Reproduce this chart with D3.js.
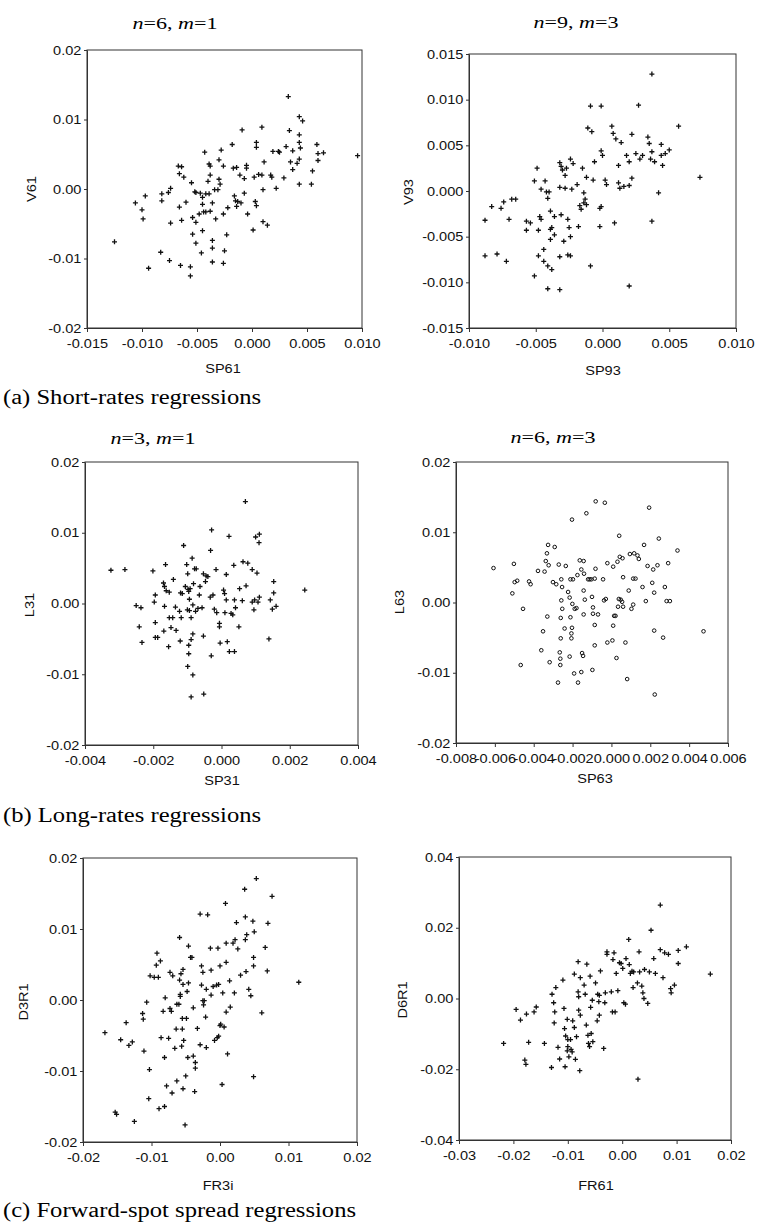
<!DOCTYPE html>
<html lang="en">
<head>
  <meta charset="UTF-8">
  <title>Regression scatter plots</title>
  <script src="https://d3js.org/d3.v7.min.js"></script>
  <style>
    body { margin: 0; background: #fff; }
    .tick text { font-family: 'Liberation Sans', Arial, sans-serif; font-size: 13px; fill: #111; }
  </style>
</head>
<body>
<div id="chart"></div>
<script>
// ---- data: [x, y] pairs per panel ----
const sp61_v61 = [[-0.0125,-0.0076],[-0.0106,-0.0020],[-0.0097,-0.0010],[-0.0100,-0.0030],[-0.0099,-0.0043],[-0.0094,-0.0114],[-0.0082,-0.0007],[-0.0082,-0.0017],[-0.0083,-0.0091],[-0.0076,-0.0005],[-0.0074,0.0001],[-0.0074,-0.0049],[-0.0075,-0.0103],[-0.0067,0.0033],[-0.0064,0.0032],[-0.0066,0.0022],[-0.0062,0.0017],[-0.0066,-0.0026],[-0.0064,-0.0045],[-0.0065,-0.0110],[-0.0060,-0.0019],[-0.0055,0.0009],[-0.0056,-0.0112],[-0.0056,-0.0125],[-0.0054,-0.0065],[-0.0054,-0.0041],[-0.0052,-0.0004],[-0.0051,-0.0048],[-0.0051,-0.0078],[-0.0048,-0.0036],[-0.0047,-0.0006],[-0.0045,-0.0060],[-0.0046,-0.0092],[-0.0045,-0.0022],[-0.0045,-0.0012],[-0.0044,-0.0033],[-0.0043,0.0053],[-0.0042,-0.0033],[-0.0040,0.0011],[-0.0039,0.0036],[-0.0038,0.0033],[-0.0038,0.0020],[-0.0039,-0.0007],[-0.0038,-0.0032],[-0.0036,-0.0020],[-0.0036,-0.0074],[-0.0036,-0.0085],[-0.0036,-0.0105],[-0.0034,-0.0001],[-0.0033,-0.0043],[-0.0031,-0.0001],[-0.0030,0.0014],[-0.0029,0.0007],[-0.0030,0.0042],[-0.0028,0.0056],[-0.0026,0.0033],[-0.0026,-0.0036],[-0.0025,-0.0089],[-0.0026,-0.0107],[-0.0023,-0.0066],[-0.0022,-0.0027],[-0.0018,0.0064],[-0.0017,0.0030],[-0.0016,-0.0010],[-0.0015,-0.0017],[-0.0014,-0.0025],[-0.0014,0.0031],[-0.0013,-0.0018],[-0.0011,0.0020],[-0.0010,-0.0020],[-0.0009,0.0085],[-0.0007,0.0015],[-0.0007,-0.0006],[-0.0005,0.0034],[-0.0005,0.0030],[-0.0004,-0.0036],[0.0001,-0.0059],[0.0002,0.0017],[0.0003,-0.0018],[0.0004,-0.0024],[0.0004,0.0067],[0.0004,0.0060],[0.0006,0.0021],[0.0009,0.0020],[0.0009,0.0089],[0.0010,-0.0001],[0.0010,-0.0047],[0.0011,0.0039],[0.0014,-0.0052],[0.0017,0.0020],[0.0018,0.0017],[0.0019,0.0054],[0.0022,0.0001],[0.0024,0.0054],[0.0025,0.0053],[0.0029,0.0016],[0.0031,0.0061],[0.0033,0.0133],[0.0034,0.0084],[0.0035,0.0039],[0.0037,0.0028],[0.0037,0.0055],[0.0041,0.0037],[0.0043,0.0043],[0.0043,0.0007],[0.0043,0.0078],[0.0043,0.0067],[0.0044,0.0059],[0.0043,0.0104],[0.0046,0.0098],[0.0054,0.0007],[0.0055,0.0026],[0.0059,0.0064],[0.0060,0.0051],[0.0060,0.0041],[0.0065,0.0052],[0.0096,0.0048],[-0.0042,-0.0007],[-0.0051,-0.0005]];

const sp93_v93 = [[-0.0088,-0.0032],[-0.0088,-0.0071],[-0.0083,-0.0017],[-0.0079,-0.0069],[-0.0076,-0.0019],[-0.0074,-0.0012],[-0.0072,-0.0077],[-0.0070,-0.0031],[-0.0068,-0.0009],[-0.0065,-0.0009],[-0.0057,-0.0033],[-0.0057,-0.0043],[-0.0054,-0.0035],[-0.0051,0.0011],[-0.0051,-0.0093],[-0.0049,0.0025],[-0.0048,-0.0043],[-0.0048,-0.0071],[-0.0047,-0.0028],[-0.0046,0.0002],[-0.0046,-0.0031],[-0.0044,-0.0077],[-0.0044,-0.0064],[-0.0043,0.0011],[-0.0042,-0.0001],[-0.0041,-0.0008],[-0.0040,-0.0001],[-0.0041,-0.0107],[-0.0041,-0.0082],[-0.0039,-0.0022],[-0.0039,-0.0053],[-0.0039,-0.0042],[-0.0038,-0.0040],[-0.0038,-0.0086],[-0.0036,-0.0028],[-0.0036,-0.0048],[-0.0032,-0.0072],[-0.0032,-0.0108],[-0.0032,0.0004],[-0.0032,0.0031],[-0.0031,0.0027],[-0.0031,-0.0026],[-0.0030,0.0023],[-0.0029,-0.0055],[-0.0028,0.0017],[-0.0028,0.0003],[-0.0027,0.0025],[-0.0026,-0.0031],[-0.0026,-0.0070],[-0.0025,-0.0040],[-0.0024,0.0035],[-0.0024,-0.0050],[-0.0024,-0.0071],[-0.0023,0.0002],[-0.0022,0.0030],[-0.0019,0.0007],[-0.0018,-0.0039],[-0.0017,-0.0016],[-0.0016,-0.0020],[-0.0015,0.0025],[-0.0014,-0.0013],[-0.0014,-0.0002],[-0.0013,-0.0009],[-0.0012,0.0015],[-0.0011,0.0069],[-0.0009,0.0093],[-0.0008,0.0065],[-0.0009,-0.0082],[-0.0007,0.0012],[-0.0006,0.0032],[-0.0002,-0.0019],[-0.0002,-0.0039],[-0.0001,0.0093],[-0.0001,-0.0017],[-0.0001,0.0044],[0.0000,0.0039],[0.0002,0.0012],[0.0003,0.0007],[0.0007,0.0071],[0.0008,0.0063],[0.0009,-0.0035],[0.0010,0.0057],[0.0012,0.0009],[0.0012,0.0028],[0.0013,0.0003],[0.0014,0.0053],[0.0016,0.0005],[0.0018,0.0039],[0.0020,0.0032],[0.0020,0.0006],[0.0020,-0.0104],[0.0022,0.0014],[0.0022,0.0062],[0.0025,0.0041],[0.0027,0.0094],[0.0028,0.0035],[0.0030,0.0039],[0.0034,0.0059],[0.0035,0.0052],[0.0036,0.0035],[0.0037,0.0128],[0.0037,-0.0033],[0.0037,0.0043],[0.0039,0.0032],[0.0042,-0.0002],[0.0044,0.0051],[0.0044,0.0039],[0.0045,0.0028],[0.0047,0.0041],[0.0050,0.0045],[0.0057,0.0071],[0.0073,0.0015],[-0.0012,-0.0015]];

const sp31_l31 = [[-0.00324,0.0047],[-0.00283,0.0048],[-0.00250,-0.0003],[-0.00236,-0.0006],[-0.00241,-0.0033],[-0.00233,-0.0055],[-0.00201,0.0046],[-0.00197,0.0002],[-0.00194,0.0012],[-0.00194,-0.0027],[-0.00194,-0.0048],[-0.00187,-0.0048],[-0.00170,0.0029],[-0.00167,0.0024],[-0.00167,-0.0004],[-0.00164,0.0055],[-0.00162,0.0018],[-0.00169,-0.0039],[-0.00155,-0.0061],[-0.00153,0.0016],[-0.00153,-0.0020],[-0.00148,-0.0034],[-0.00143,-0.0020],[-0.00141,0.0034],[-0.00135,-0.0005],[-0.00133,-0.0038],[-0.00123,-0.0011],[-0.00121,-0.0053],[-0.00120,0.0015],[-0.00118,-0.0020],[-0.00115,0.0014],[-0.00111,0.0082],[-0.00106,0.0024],[-0.00102,0.0055],[-0.00100,-0.0009],[-0.00099,0.0042],[-0.00098,0.0020],[-0.00096,0.0017],[-0.00096,-0.0059],[-0.00096,-0.0071],[-0.00099,-0.0089],[-0.00094,0.0006],[-0.00094,-0.0010],[-0.00092,0.0021],[-0.00089,-0.0020],[-0.00089,-0.0132],[-0.00089,-0.0051],[-0.00086,0.0064],[-0.00084,-0.0002],[-0.00084,-0.0043],[-0.00084,-0.0101],[-0.00082,0.0028],[-0.00079,0.0049],[-0.00076,-0.0011],[-0.00074,0.0049],[-0.00069,-0.0007],[-0.00065,0.0012],[-0.00063,0.0024],[-0.00057,-0.0006],[-0.00053,0.0042],[-0.00053,-0.0046],[-0.00052,-0.0128],[-0.00047,0.0031],[-0.00045,0.0039],[-0.00040,0.0038],[-0.00033,0.0009],[-0.00032,0.0075],[-0.00030,-0.0074],[-0.00029,0.0104],[-0.00025,0.0012],[-0.00021,-0.0008],[-0.00016,0.0048],[-0.00014,-0.0013],[-0.00006,-0.0028],[-0.00006,-0.0033],[-0.00004,-0.0056],[0.00006,0.0019],[0.00009,0.0014],[0.00010,-0.0013],[0.00014,0.0041],[0.00014,0.0005],[0.00017,-0.0054],[0.00022,0.0095],[0.00023,-0.0068],[0.00028,-0.0014],[0.00033,-0.0016],[0.00036,0.0054],[0.00038,0.0005],[0.00038,-0.0068],[0.00041,-0.0006],[0.00051,-0.0033],[0.00053,0.0021],[0.00061,0.0004],[0.00063,0.0059],[0.00070,0.0144],[0.00072,0.0025],[0.00077,0.0057],[0.00090,0.0048],[0.00090,0.0002],[0.00095,-0.0009],[0.00097,0.0005],[0.00100,0.0094],[0.00104,0.0043],[0.00107,0.0002],[0.00110,0.0086],[0.00111,0.0098],[0.00111,0.0009],[0.00139,-0.0050],[0.00143,0.0005],[0.00149,-0.0008],[0.00153,0.0031],[0.00153,0.0015],[0.00160,-0.0004],[0.00244,0.0019]];

const sp63_l63 = [[-0.00607,0.0049],[-0.00510,0.0013],[-0.00502,0.0055],[-0.00498,0.0029],[-0.00485,0.0031],[-0.00467,-0.0089],[-0.00455,-0.0009],[-0.00424,0.0030],[-0.00416,0.0026],[-0.00378,0.0045],[-0.00361,-0.0068],[-0.00352,-0.0041],[-0.00344,0.0044],[-0.00338,0.0059],[-0.00332,0.0070],[-0.00330,-0.0020],[-0.00326,0.0082],[-0.00323,0.0053],[-0.00318,-0.0085],[-0.00301,0.0029],[-0.00292,0.0079],[-0.00284,0.0026],[-0.00275,-0.0114],[-0.00271,0.0054],[-0.00266,-0.0071],[-0.00263,-0.0080],[-0.00263,-0.0089],[-0.00261,-0.0051],[-0.00261,-0.0022],[-0.00258,0.0003],[-0.00258,0.0033],[-0.00254,0.0022],[-0.00253,-0.0009],[-0.00241,-0.0037],[-0.00235,0.0052],[-0.00223,0.0015],[-0.00215,0.0007],[-0.00215,-0.0077],[-0.00211,-0.0021],[-0.00211,0.0033],[-0.00206,-0.0044],[-0.00206,-0.0051],[-0.00203,-0.0036],[-0.00203,0.0118],[-0.00201,-0.0002],[-0.00198,0.0033],[-0.00192,-0.0101],[-0.00189,-0.0009],[-0.00180,-0.0008],[-0.00175,0.0039],[-0.00172,-0.0114],[-0.00163,0.0060],[-0.00155,0.0047],[-0.00155,-0.0099],[-0.00151,-0.0072],[-0.00146,-0.0076],[-0.00143,0.0059],[-0.00143,0.0017],[-0.00143,-0.0017],[-0.00141,0.0041],[-0.00137,0.0004],[-0.00129,0.0127],[-0.00120,0.0033],[-0.00112,0.0033],[-0.00103,0.0033],[-0.00100,0.0008],[-0.00095,-0.0007],[-0.00098,-0.0096],[-0.00095,-0.0016],[-0.00086,0.0034],[-0.00086,-0.0032],[-0.00086,-0.0061],[-0.00082,0.0048],[-0.00081,0.0144],[-0.00069,-0.0017],[-0.00043,0.0033],[-0.00038,0.0003],[-0.00034,0.0142],[-0.00029,0.0005],[-0.00021,-0.0057],[-0.00021,0.0056],[0.00005,-0.0054],[0.00009,0.0051],[0.00009,-0.0033],[0.00014,-0.0019],[0.00021,-0.0019],[0.00026,-0.0079],[0.00031,0.0058],[0.00034,-0.0006],[0.00038,0.0005],[0.00040,0.0095],[0.00043,0.0065],[0.00048,0.0004],[0.00055,0.0001],[0.00057,0.0063],[0.00060,0.0036],[0.00060,-0.0006],[0.00072,-0.0057],[0.00089,0.0017],[0.00095,0.0069],[0.00103,-0.0009],[0.00112,-0.0003],[0.00112,0.0034],[0.00117,0.0070],[0.00124,0.0034],[0.00134,0.0067],[0.00141,0.0062],[0.00160,0.0022],[0.00168,0.0082],[0.00177,0.0002],[0.00186,0.0052],[0.00194,0.0135],[0.00210,0.0028],[0.00215,0.0047],[0.00220,0.0014],[0.00220,-0.0040],[0.00237,0.0053],[0.00244,0.0091],[0.00266,-0.0050],[0.00275,0.0022],[0.00284,0.0002],[0.00292,0.0056],[0.00301,0.0002],[0.00340,0.0074],[0.00223,-0.0131],[0.00081,-0.0109],[0.00474,-0.0041]];

const fr31_d3r1 = [[-0.0168,-0.0046],[-0.0153,-0.0158],[-0.0151,-0.0161],[-0.0145,-0.0056],[-0.0137,-0.0032],[-0.0133,-0.0064],[-0.0128,-0.0059],[-0.0125,-0.0171],[-0.0113,-0.0019],[-0.0112,-0.0027],[-0.0111,-0.0072],[-0.0107,-0.0003],[-0.0104,-0.0139],[-0.0103,-0.0098],[-0.0102,0.0034],[-0.0096,0.0032],[-0.0093,0.0049],[-0.0092,0.0066],[-0.0090,0.0032],[-0.0089,-0.0153],[-0.0087,0.0055],[-0.0086,-0.0053],[-0.0083,-0.0016],[-0.0081,-0.0081],[-0.0081,-0.0150],[-0.0080,0.0003],[-0.0078,-0.0121],[-0.0075,-0.0054],[-0.0073,-0.0012],[-0.0073,0.0039],[-0.0071,-0.0016],[-0.0070,-0.0131],[-0.0069,0.0034],[-0.0066,-0.0068],[-0.0064,-0.0041],[-0.0063,-0.0114],[-0.0063,-0.0006],[-0.0060,-0.0006],[-0.0059,0.0088],[-0.0059,0.0028],[-0.0058,0.0008],[-0.0058,0.0005],[-0.0057,0.0037],[-0.0056,-0.0065],[-0.0055,-0.0026],[-0.0055,-0.0041],[-0.0054,-0.0125],[-0.0054,0.0043],[-0.0054,0.0022],[-0.0053,-0.0057],[-0.0051,-0.0176],[-0.0050,-0.0107],[-0.0049,-0.0026],[-0.0048,0.0012],[-0.0047,-0.0081],[-0.0046,0.0076],[-0.0046,0.0024],[-0.0043,0.0060],[-0.0041,0.0060],[-0.0039,-0.0011],[-0.0039,-0.0079],[-0.0037,-0.0129],[-0.0036,-0.0088],[-0.0036,-0.0096],[-0.0033,-0.0040],[-0.0029,0.0121],[-0.0029,-0.0063],[-0.0027,0.0048],[-0.0027,0.0021],[-0.0025,0.0039],[-0.0025,-0.0001],[-0.0024,-0.0007],[-0.0023,-0.0001],[-0.0021,-0.0024],[-0.0020,0.0015],[-0.0020,-0.0067],[-0.0018,0.0120],[-0.0014,0.0073],[-0.0013,0.0042],[-0.0013,0.0007],[-0.0010,0.0019],[-0.0008,-0.0057],[-0.0005,0.0021],[-0.0004,-0.0053],[-0.0003,0.0073],[-0.0002,0.0022],[-0.0002,-0.0051],[0.0000,-0.0036],[0.0000,0.0048],[0.0001,-0.0034],[0.0003,-0.0119],[0.0004,0.0010],[0.0006,-0.0038],[0.0008,0.0136],[0.0009,0.0053],[0.0009,0.0080],[0.0009,-0.0017],[0.0011,-0.0076],[0.0014,0.0027],[0.0015,-0.0010],[0.0019,0.0080],[0.0021,0.0010],[0.0022,0.0085],[0.0024,0.0109],[0.0026,0.0072],[0.0030,0.0035],[0.0036,0.0156],[0.0037,0.0117],[0.0037,0.0085],[0.0038,0.0040],[0.0039,0.0092],[0.0042,0.0015],[0.0045,0.0006],[0.0048,0.0111],[0.0049,0.0060],[0.0049,0.0048],[0.0050,0.0096],[0.0049,-0.0108],[0.0053,0.0171],[0.0061,-0.0018],[0.0066,0.0074],[0.0069,0.0041],[0.0070,0.0108],[0.0076,0.0146],[0.0115,0.0025]];

const fr61_d6r1 = [[-0.0218,-0.0127],[-0.0195,-0.0031],[-0.0187,-0.0061],[-0.0179,-0.0174],[-0.0177,-0.0186],[-0.0176,-0.0044],[-0.0172,-0.0124],[-0.0162,-0.0038],[-0.0158,-0.0024],[-0.0143,-0.0127],[-0.0130,-0.0195],[-0.0129,0.0012],[-0.0126,-0.0012],[-0.0125,-0.0069],[-0.0124,-0.0038],[-0.0122,0.0031],[-0.0118,-0.0138],[-0.0115,-0.0171],[-0.0109,0.0052],[-0.0107,-0.0028],[-0.0106,-0.0085],[-0.0105,-0.0193],[-0.0104,-0.0106],[-0.0101,-0.0059],[-0.0101,-0.0148],[-0.0100,-0.0116],[-0.0100,-0.0136],[-0.0098,-0.0165],[-0.0095,-0.0116],[-0.0094,-0.0144],[-0.0092,-0.0151],[-0.0091,-0.0063],[-0.0088,0.0069],[-0.0088,-0.0082],[-0.0086,-0.0172],[-0.0084,-0.0108],[-0.0081,0.0104],[-0.0081,0.0019],[-0.0080,0.0005],[-0.0080,-0.0033],[-0.0078,-0.0204],[-0.0077,0.0059],[-0.0077,-0.0047],[-0.0070,0.0038],[-0.0068,0.0012],[-0.0066,-0.0075],[-0.0065,0.0097],[-0.0063,-0.0104],[-0.0062,-0.0127],[-0.0060,-0.0136],[-0.0059,0.0063],[-0.0058,-0.0025],[-0.0057,-0.0099],[-0.0055,-0.0005],[-0.0054,-0.0122],[-0.0049,0.0044],[-0.0046,-0.0063],[-0.0045,0.0012],[-0.0043,-0.0009],[-0.0042,-0.0047],[-0.0042,0.0009],[-0.0040,0.0078],[-0.0034,-0.0141],[-0.0032,-0.0012],[-0.0031,0.0016],[-0.0028,0.0132],[-0.0028,0.0125],[-0.0020,0.0019],[-0.0018,-0.0038],[-0.0017,0.0110],[-0.0015,0.0129],[-0.0013,-0.0038],[-0.0011,0.0071],[-0.0008,0.0022],[-0.0005,0.0101],[-0.0002,0.0099],[0.0001,0.0085],[0.0003,-0.0012],[0.0006,-0.0016],[0.0007,0.0113],[0.0012,0.0167],[0.0013,0.0096],[0.0015,0.0071],[0.0018,0.0077],[0.0020,0.0031],[0.0021,0.0075],[0.0028,0.0044],[0.0029,-0.0228],[0.0031,0.0132],[0.0032,0.0075],[0.0036,0.0035],[0.0038,0.0016],[0.0040,0.0000],[0.0041,0.0082],[0.0047,-0.0014],[0.0050,0.0075],[0.0053,0.0193],[0.0058,0.0113],[0.0061,0.0071],[0.0070,0.0138],[0.0070,0.0264],[0.0075,0.0059],[0.0078,0.0129],[0.0085,0.0125],[0.0089,0.0028],[0.0090,0.0016],[0.0096,0.0038],[0.0103,0.0136],[0.0103,0.0099],[0.0118,0.0146],[0.0162,0.0069]];

// ---- tick values and labels ----
const ticks2 = [-0.02, -0.01, 0, 0.01, 0.02];
const labels2 = ["-0.02", "-0.01", "0.00", "0.01", "0.02"];
const ticksSP61 = [-0.015, -0.010, -0.005, 0, 0.005, 0.010];
const labelsSP61 = ["-0.015", "-0.010", "-0.005", "0.000", "0.005", "0.010"];
const ticksSP93 = [-0.010, -0.005, 0, 0.005, 0.010];
const labelsSP93 = ["-0.010", "-0.005", "0.000", "0.005", "0.010"];
const ticksV93 = [-0.015, -0.010, -0.005, 0, 0.005, 0.010, 0.015];
const labelsV93 = ["-0.015", "-0.010", "-0.005", "0.000", "0.005", "0.010", "0.015"];
const ticksSP31 = [-0.004, -0.002, 0, 0.002, 0.004];
const labelsSP31 = ["-0.004", "-0.002", "0.000", "0.002", "0.004"];
const ticksSP63 = [-0.008, -0.006, -0.004, -0.002, 0, 0.002, 0.004, 0.006];
const labelsSP63 = ["-0.008", "-0.006", "-0.004", "-0.002", "0.000", "0.002", "0.004", "0.006"];
const ticksFR61 = [-0.03, -0.02, -0.01, 0, 0.01, 0.02];
const labelsFR61 = ["-0.03", "-0.02", "-0.01", "0.00", "0.01", "0.02"];
const ticksD6R1 = [-0.04, -0.02, 0, 0.02, 0.04];
const labelsD6R1 = ["-0.04", "-0.02", "0.00", "0.02", "0.04"];

const captions = ["(a) Short-rates regressions", "(b) Long-rates regressions", "(c) Forward-spot spread regressions"];

const panels = [
  { data: sp61_v61, xt: ticksSP61, xl: labelsSP61, yt: ticks2, yl: labels2, xname: "SP61", yname: "V61", nm: ["6", "1"], mark: "plus",
    box: [87, 50, 362, 328], title: [175, 29], xpos: [223, 373], ypos: [36, 189] },
  { data: sp93_v93, xt: ticksSP93, xl: labelsSP93, yt: ticksV93, yl: labelsV93, xname: "SP93", yname: "V93", nm: ["9", "3"], mark: "plus",
    box: [469, 54, 736, 328], title: [576, 28], xpos: [603, 375], ypos: [413, 192] },
  { data: sp31_l31, xt: ticksSP31, xl: labelsSP31, yt: ticks2, yl: labels2, xname: "SP31", yname: "L31", nm: ["3", "1"], mark: "plus",
    box: [85, 462, 358, 745], title: [153, 444], xpos: [222, 785], ypos: [34, 605] },
  { data: sp63_l63, xt: ticksSP63, xl: labelsSP63, yt: ticks2, yl: labels2, xname: "SP63", yname: "L63", nm: ["6", "3"], mark: "circle",
    box: [456, 462, 728, 743], title: [553, 443], xpos: [595, 783], ypos: [404, 602] },
  { data: fr31_d3r1, xt: ticks2, xl: labels2, yt: ticks2, yl: labels2, xname: "FR3i", yname: "D3R1", nm: null, mark: "plus",
    box: [83, 858, 357, 1142], title: null, xpos: [218, 1190], ypos: [28, 1002] },
  { data: fr61_d6r1, xt: ticksFR61, xl: labelsFR61, yt: ticksD6R1, yl: labelsD6R1, xname: "FR61", yname: "D6R1", nm: null, mark: "plus",
    box: [459, 857, 731, 1140], title: null, xpos: [596, 1190], ypos: [407, 1000] }
];
const captionPos = [[3, 404], [3, 822], [3, 1217]];

const sans = "'Liberation Sans', Arial, sans-serif";
const serif = "'Liberation Serif', 'Times New Roman', serif";
const sx = 1.12;      // the scan is stretched horizontally
const titleSx = 1.3;

const svg = d3.select("#chart").append("svg")
    .attr("width", 758)
    .attr("height", 1226);

panels.forEach(function (p) {
    const [l, t, r, b] = p.box;
    const x = d3.scaleLinear().domain([p.xt[0], p.xt[p.xt.length - 1]]).range([l, r]);
    const y = d3.scaleLinear().domain([p.yt[0], p.yt[p.yt.length - 1]]).range([b, t]);
    const g = svg.append("g");

    // frame
    g.append("rect")
        .attr("x", l).attr("y", t)
        .attr("width", r - l).attr("height", b - t)
        .attr("fill", "none")
        .attr("stroke", "#333")
        .attr("stroke-width", 1);

    // axes
    const xa = g.append("g")
        .attr("transform", `translate(0, ${b})`)
        .call(d3.axisBottom(x).tickValues(p.xt).tickFormat((d, i) => p.xl[i]).tickSize(4).tickSizeOuter(0).tickPadding(7));
    const ya = g.append("g")
        .attr("transform", `translate(${l}, 0)`)
        .call(d3.axisLeft(y).tickValues(p.yt).tickFormat((d, i) => p.yl[i]).tickSize(3).tickSizeOuter(0).tickPadding(2));
    [xa, ya].forEach(a => {
        a.select(".domain").attr("stroke", "#333");
        a.selectAll(".tick line").attr("stroke", "#333");
        a.selectAll(".tick text").attr("transform", `scale(${sx},1)`);
    });

    // points
    const pts = g.append("g");
    if (p.mark === "circle") {
        pts.selectAll("circle").data(p.data).enter().append("circle")
            .attr("cx", d => x(d[0])).attr("cy", d => y(d[1]))
            .attr("r", 1.8)
            .attr("fill", "none")
            .attr("stroke", "#111")
            .attr("stroke-width", 1);
    } else {
        pts.selectAll("path").data(p.data).enter().append("path")
            .attr("transform", d => `translate(${x(d[0])},${y(d[1])})`)
            .attr("d", "M-2.5,0H2.5M0,-2.5V2.5")
            .attr("stroke", "#111")
            .attr("stroke-width", 1.3);
    }

    // axis names
    g.append("text")
        .attr("transform", `translate(${p.xpos[0]},${p.xpos[1]}) scale(${sx},1)`)
        .attr("text-anchor", "middle")
        .style("font-family", sans).style("font-size", "13px").attr("fill", "#111")
        .text(p.xname);
    g.append("text")
        .attr("transform", `translate(${p.ypos[0]},${p.ypos[1]}) rotate(-90) scale(${sx},1)`)
        .attr("text-anchor", "middle")
        .style("font-family", sans).style("font-size", "13px").attr("fill", "#111")
        .text(p.yname);

    // panel title n=.., m=.. (measured, then centred by hand)
    if (p.nm) {
        const tt = g.append("text")
            .attr("x", 0).attr("y", 0)
            .style("font-family", serif).style("font-size", "17px").attr("fill", "#000");
        tt.append("tspan").style("font-style", "italic").text("n");
        tt.append("tspan").text("=" + p.nm[0] + ",\u00a0");
        tt.append("tspan").style("font-style", "italic").text("m");
        tt.append("tspan").text("=" + p.nm[1]);
        const w = tt.node().getComputedTextLength();
        tt.attr("transform", `translate(${p.title[0] - w * titleSx / 2},${p.title[1]}) scale(${titleSx},1)`);
    }
});

// section captions
svg.selectAll(".caption").data(captions).enter().append("text")
    .attr("class", "caption")
    .attr("transform", (d, i) => `translate(${captionPos[i][0]},${captionPos[i][1]}) scale(1.23,1)`)
    .style("font-family", serif).style("font-size", "20px").attr("fill", "#000")
    .text(d => d);
</script>
</body>
</html>
